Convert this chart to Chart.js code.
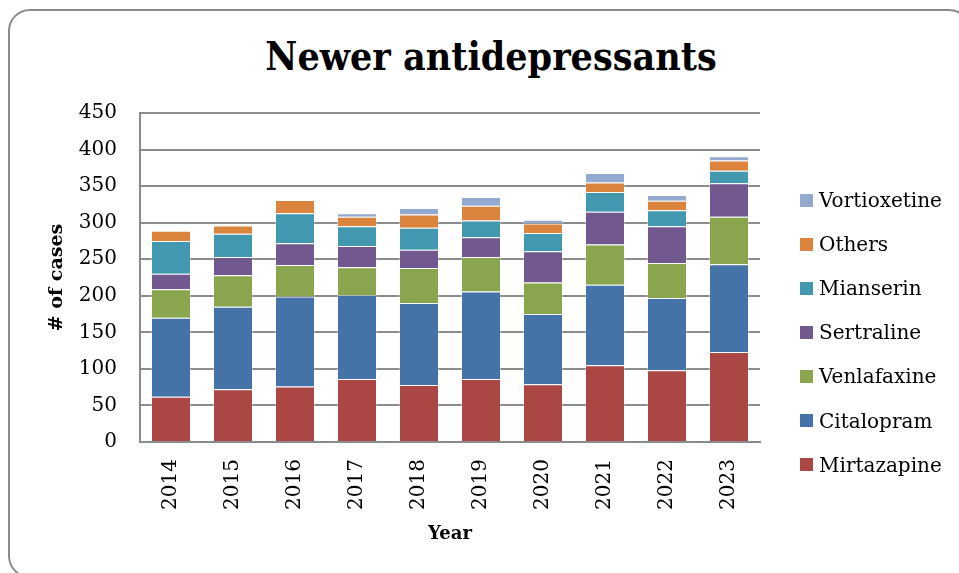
<!DOCTYPE html>
<html>
<head>
<meta charset="utf-8">
<script src="https://cdn.jsdelivr.net/npm/chart.js@4.4.1/dist/chart.umd.min.js"></script>
<style>
  html, body { margin: 0; padding: 0; background: #fff; overflow: hidden; }
  #wrap { position: relative; width: 959px; height: 573px; overflow: hidden; }
  #frame {
    position: absolute; left: 8px; top: 9px; width: 963px; height: 569px;
    box-sizing: border-box; border: 2px solid #8a8a8a; border-radius: 22px;
  }
  #title {
    position: absolute; left: 0; top: 37px; width: 982px; text-align: center;
    font: bold 39px "DejaVu Serif Condensed", "DejaVu Serif", serif; line-height: 39px; color: #000;
  }
  #legend { position: absolute; left: 800px; top: 178px; }
  .item { display: flex; align-items: center; height: 44.1px; }
  .box { width: 13px; height: 13px; margin-right: 6px; }
  .item span { font: 20px "DejaVu Serif", serif; line-height: 20px; color: #000; }
  canvas { position: absolute; left: 0; top: 0; }
</style>
</head>
<body>
<div id="wrap">
  <div id="frame"></div>
  <div id="title">Newer antidepressants</div>
  <canvas id="chart" width="959" height="573"></canvas>
  <div id="legend"></div>
</div>
<script>
const years = ["2014", "2015", "2016", "2017", "2018", "2019", "2020", "2021", "2022", "2023"]

const mirtazapine = [62, 72, 76, 86, 78, 86, 79, 105, 98, 123]
const citalopram = [108, 113, 123, 115, 112, 120, 96, 110, 99, 120]
const venlafaxine = [39, 43, 43, 38, 48, 47, 43, 55, 48, 65]
const sertraline = [21, 25, 30, 29, 25, 27, 43, 45, 50, 46]
const mianserin = [45, 32, 41, 27, 30, 23, 25, 27, 22, 17]
const others = [14, 11, 18, 13, 18, 20, 13, 13, 13, 14]
const vortioxetine = [0, 0, 0, 5, 9, 12, 5, 13, 8, 6]

const series = [
  { label: "Mirtazapine", data: mirtazapine, color: "#AA4643" },
  { label: "Citalopram", data: citalopram, color: "#4572A7" },
  { label: "Venlafaxine", data: venlafaxine, color: "#89A54E" },
  { label: "Sertraline", data: sertraline, color: "#71588F" },
  { label: "Mianserin", data: mianserin, color: "#4198AF" },
  { label: "Others", data: others, color: "#DB843D" },
  { label: "Vortioxetine", data: vortioxetine, color: "#93A9CF" }
]

const serif = "'DejaVu Serif', serif"
const gridGray = "#8c8c8c"

new Chart(document.getElementById("chart"), {
  type: "bar",
  data: {
    labels: years,
    datasets: series.map(s => ({
      label: s.label,
      data: s.data,
      backgroundColor: s.color,
      borderColor: "rgba(255,255,255,0.35)",
      borderWidth: 1,
      barPercentage: 0.645,
      categoryPercentage: 1
    }))
  },
  options: {
    responsive: false,
    animation: false,
    layout: { padding: { top: 113, right: 199, bottom: 0, left: 0 } },
    plugins: {
      legend: { display: false },
      tooltip: { enabled: false }
    },
    scales: {
      x: {
        stacked: true,
        grid: { display: false, drawTicks: false },
        border: { display: true, color: gridGray, width: 2 },
        ticks: {
          color: "#000",
          font: { family: serif, size: 20 },
          minRotation: 90,
          maxRotation: 90,
          padding: 17
        },
        title: {
          display: true,
          text: "Year",
          color: "#000",
          font: { family: serif, size: 18, weight: "bold" },
          padding: { top: 0, bottom: 28 }
        },
        afterFit(scale) { scale.height = 131 }
      },
      y: {
        stacked: true,
        min: 0,
        max: 450,
        grid: { color: gridGray, lineWidth: 2, drawTicks: false },
        border: { display: true, color: gridGray, width: 2 },
        ticks: {
          stepSize: 50,
          color: "#000",
          font: { family: serif, size: 20 },
          padding: 23
        },
        title: {
          display: true,
          text: "# of cases",
          color: "#000",
          font: { family: serif, size: 19, weight: "bold" },
          padding: { top: 46, bottom: 0 }
        },
        afterFit(scale) { scale.width = 140 }
      }
    }
  }
})

const legend = document.getElementById("legend")
series.slice().reverse().forEach(s => {
  const row = document.createElement("div")
  row.className = "item"
  const box = document.createElement("div")
  box.className = "box"
  box.style.background = s.color
  const text = document.createElement("span")
  text.textContent = s.label
  row.appendChild(box)
  row.appendChild(text)
  legend.appendChild(row)
})
</script>
</body>
</html>
